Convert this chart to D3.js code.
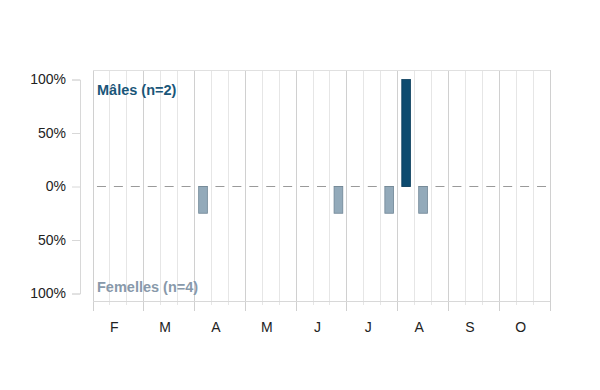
<!DOCTYPE html>
<html><head><meta charset="utf-8">
<script src="https://cdn.jsdelivr.net/npm/d3@7"></script>
<style>body{margin:0;background:#fff}svg{display:block}</style>
</head><body><div id="chart"></div>
<script>
const months = ["F","M","A","M","J","J","A","S","O"];
const decadesPerMonth = 3;
// share of individuals per 10-day period (27 decades Feb–Oct)
const maleValues   = [0,0,0, 0,0,0, 0,0,0, 0,0,0, 0,0,0, 0,0,0, 1,0,0, 0,0,0, 0,0,0];
const femaleValues = [0,0,0, 0,0,0, 0.25,0,0, 0,0,0, 0,0,0.25, 0,0,0.25, 0,0.25,0, 0,0,0, 0,0,0];
const yTickValues = [1, 0.5, 0, -0.5, -1];
const yTickLabels = ["100%","50%","0%","50%","100%"];
const maleLabel = "Mâles (n=2)";
const femaleLabel = "Femelles (n=4)";

const W = 600, H = 390;
const mLeft = 93, mRight = 550, mTop = 70, mBottom = 301;
const nDec = months.length * decadesPerMonth;
const FONT = "Liberation Sans, Arial, sans-serif";

const svg = d3.select("#chart").append("svg").attr("width", W).attr("height", H);
const x = d3.scaleLinear().domain([0, nDec]).range([mLeft, mRight]);
const y = d3.scaleLinear().domain([-1, 1]).range([293.5, 79.5]);

// vertical grid lines
const g = svg.append("g");
d3.range(nDec + 1).forEach(i => {
  const isMonth = i % decadesPerMonth === 0;
  g.append("line").attr("x1", x(i)).attr("x2", x(i))
    .attr("y1", mTop).attr("y2", isMonth ? 311 : 305)
    .attr("stroke", isMonth ? "#d0d0d0" : "#e6e6e6").attr("stroke-width", 1)
    .attr("shape-rendering", "crispEdges");
});
// top & bottom lines
g.append("line").attr("x1", mLeft).attr("x2", mRight).attr("y1", mTop).attr("y2", mTop)
  .attr("stroke", "#e0e0e0").attr("shape-rendering", "crispEdges");
g.append("line").attr("x1", mLeft).attr("x2", mRight).attr("y1", mBottom).attr("y2", mBottom)
  .attr("stroke", "#d8d8d8").attr("shape-rendering", "crispEdges");

// y axis
const yAxis = d3.axisLeft(y).tickValues(yTickValues).tickSize(8).tickPadding(6)
  .tickFormat((d, i) => yTickLabels[i]);
const ya = svg.append("g").attr("transform", "translate(80,0)").call(yAxis);
ya.select(".domain").attr("stroke", "#d8d8d8");
ya.selectAll(".tick line").attr("stroke", "#d8d8d8");
ya.selectAll("text").attr("font-family", FONT).attr("font-size", 14).attr("fill", "#222");

// zero dashed line (one dash per 10-day period)
const period = x(1) - x(0);
const dashLen = 9;
svg.append("line").attr("x1", x(0) + (period - dashLen) / 2).attr("x2", x(nDec))
  .attr("y1", y(0)).attr("y2", y(0))
  .attr("stroke", "#9a9a9a").attr("stroke-dasharray", `${dashLen},${period - dashLen}`);

// bars
const bw = 8.7;
svg.append("g").selectAll("rect").data(femaleValues.map((v,i)=>({v,i})).filter(d=>d.v>0))
  .join("rect")
  .attr("x", d => x(d.i + 0.5) - bw/2).attr("width", bw)
  .attr("y", y(0)).attr("height", d => y(-d.v) - y(0))
  .attr("fill", "#93aaba").attr("stroke", "#6f8595").attr("stroke-width", 0.8);
svg.append("g").selectAll("rect").data(maleValues.map((v,i)=>({v,i})).filter(d=>d.v>0))
  .join("rect")
  .attr("x", d => x(d.i + 0.5) - bw/2).attr("width", bw)
  .attr("y", d => y(d.v)).attr("height", d => y(0) - y(d.v))
  .attr("fill", "#0d4b6f").attr("stroke", "#0a3d5c").attr("stroke-width", 0.8);

// month labels
svg.append("g").selectAll("text").data(months).join("text")
  .attr("x", (d, i) => x(i * decadesPerMonth + 1.5) - 4)
  .attr("y", 332).attr("text-anchor", "middle")
  .attr("font-family", FONT).attr("font-size", 14)
  .attr("fill", "#222").text(d => d);

// series labels
svg.append("text").attr("x", 97).attr("y", 95)
  .attr("font-family", FONT).attr("font-size", 14.5)
  .attr("font-weight", "bold").attr("fill", "#1a5679").text(maleLabel);
svg.append("text").attr("x", 97).attr("y", 292)
  .attr("font-family", FONT).attr("font-size", 14.5)
  .attr("font-weight", "bold").attr("fill", "#8899aa").text(femaleLabel);
</script></body></html>
